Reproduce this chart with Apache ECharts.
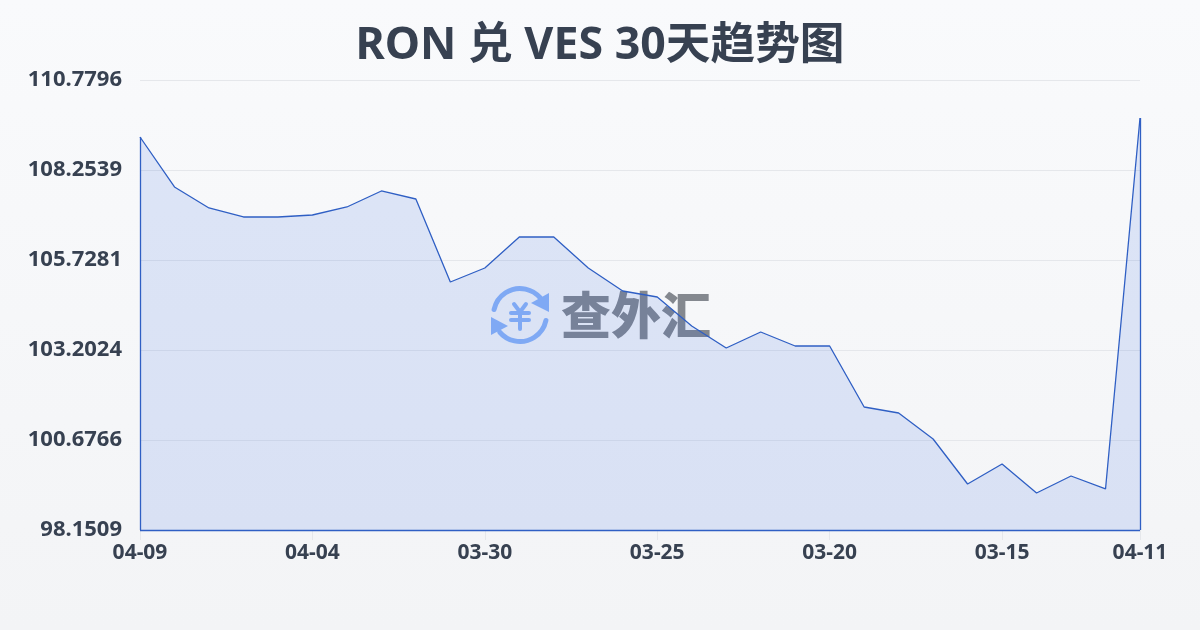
<!DOCTYPE html>
<html><head><meta charset="utf-8">
<style>html,body{margin:0;padding:0;background:#f5f7f9}#c{width:1200px;height:630px}</style>
<script src="https://cdn.jsdelivr.net/npm/echarts@6/dist/echarts.min.js"></script>
</head><body><div id="c"></div>
<script>
const titleText = 'RON 兑 VES 30天趋势图';
const categories = ['04-09','04-08','04-07','04-06','04-05','04-04','04-03','04-02','04-01','03-31','03-30','03-29','03-28','03-27','03-26','03-25','03-24','03-23','03-22','03-21','03-20','03-19','03-18','03-17','03-16','03-15','03-14','03-13','03-12','04-11'];
const rates = [109.180,107.777,107.188,106.935,106.935,106.991,107.216,107.665,107.440,105.111,105.504,106.374,106.374,105.504,104.858,104.690,103.876,103.259,103.708,103.315,103.315,101.603,101.434,100.705,99.442,100.003,99.189,99.666,99.302,109.713];
const yTicks = [98.1509,100.6766,103.2024,105.7281,108.2539,110.7796];
const labelIdx = [0,5,10,15,20,25,29];
const yMin = yTicks[0], yMax = yTicks[yTicks.length-1];
const last = categories.length-1;
const FONT = '"Noto Sans","Noto Sans CJK SC",sans-serif';
const BLUE = '#2f5fc4';
const ICON = '#8db5f7';
const chart = echarts.init(document.getElementById('c'), null, {renderer:'canvas'});
const arc = (s,e)=>({type:'arc',z:1,silent:true,shape:{cx:520,cy:315,r:26.5,startAngle:s*Math.PI/180,endAngle:e*Math.PI/180,clockwise:true},style:{fill:null,stroke:ICON,lineWidth:5,lineCap:'round'}});
const poly = pts=>({type:'polygon',z:1,silent:true,shape:{points:pts},style:{fill:ICON}});
const pl = pts=>({type:'polyline',z:1,silent:true,shape:{points:pts},style:{fill:null,stroke:ICON,lineWidth:4,lineCap:'round',lineJoin:'round'}});
chart.setOption({
  animation:false,
  backgroundColor:{type:'linear',x:0,y:0,x2:0,y2:1,colorStops:[{offset:0,color:'#f9fafc'},{offset:1,color:'#f3f4f6'}]},
  title:{text:titleText,left:'center',top:19,textStyle:{fontFamily:FONT,fontSize:44.7,fontWeight:700,color:'#374151'}},
  grid:{left:140,right:60,top:80,bottom:100},
  xAxis:{type:'category',boundaryGap:false,data:categories,
    axisLine:{show:false},
    axisTick:{show:true,length:10,interval:i=>labelIdx.includes(i),lineStyle:{color:'#e5e7eb',width:1}},
    axisLabel:{interval:i=>labelIdx.includes(i),margin:13,fontFamily:FONT,fontSize:21,fontWeight:700,color:'#374151',hideOverlap:false},
    splitLine:{show:false}},
  yAxis:{type:'value',min:yMin,max:yMax,
    axisLine:{show:false},axisTick:{show:false,customValues:yTicks},
    axisLabel:{customValues:yTicks,margin:18,fontFamily:FONT,fontSize:22,fontWeight:700,color:'#374151',formatter:v=>v.toFixed(4)},
    splitLine:{show:true,lineStyle:{color:'#e5e7eb',width:1}}},
  graphic:[
    arc(192,320),arc(12,140),
    poly([[549,293],[549,312],[531,303]]),poly([[491,317],[491,335],[508,326]]),
    pl([[514,304],[520,312],[526,304]]),pl([[511,313],[529,313]]),pl([[511,320],[529,320]]),pl([[520,312],[520,329]]),
    {type:'text',z:1,silent:true,x:561,y:290,style:{text:'查外汇',font:'900 50px "Noto Sans CJK SC"',fill:'#84888f'}}
  ],
  series:[{type:'line',z:2,data:rates,symbol:'none',smooth:false,
    lineStyle:{color:BLUE,width:1.3},
    areaStyle:{color:'rgba(30,90,225,0.18)',origin:'start'},
    markLine:{silent:true,symbol:'none',label:{show:false},lineStyle:{color:BLUE,width:1.3,type:'solid'},animation:false,
      data:[
        [{coord:[categories[0],yMin]},{coord:[categories[last],yMin]}],
        [{coord:[categories[0],yMin]},{coord:[categories[0],rates[0]]}],
        [{coord:[categories[last],yMin]},{coord:[categories[last],rates[last]]}]
      ]}
  }]
});
</script></body></html>
